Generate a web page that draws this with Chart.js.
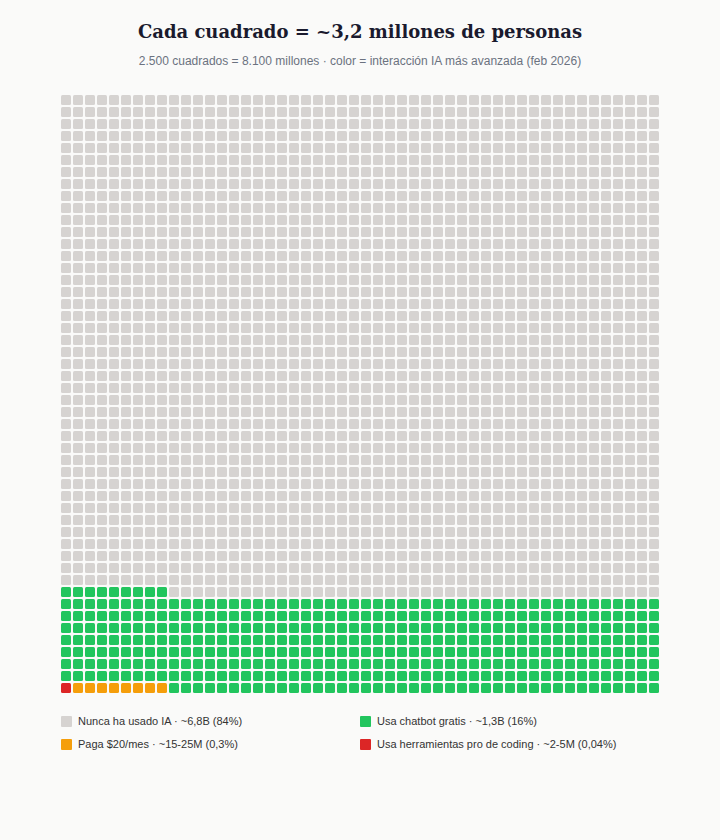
<!DOCTYPE html>
<html lang="es">
<head>
<meta charset="utf-8">
<script src="https://cdn.jsdelivr.net/npm/chart.js@4.4.1/dist/chart.umd.min.js"></script>
<style>
  html, body { margin: 0; padding: 0; background: #fafaf9; }
  body { width: 720px; height: 840px; position: relative; overflow: hidden; font-family: "Liberation Sans", Arial, sans-serif; }
  #title { position: absolute; top: 21px; left: 0; width: 720px; text-align: center; font-family: "DejaVu Serif", Georgia, serif; font-weight: bold; font-size: 18px; color: #1a1a2e; }
  #subtitle { position: absolute; top: 54px; left: 0; width: 720px; text-align: center; font-size: 12px; color: #6b7280; }
  #chart-wrap { position: absolute; left: 60px; top: 94px; width: 600px; height: 600px; }
  #legend { position: absolute; left: 61px; top: 715px; width: 620px; }
  .item { position: absolute; display: flex; align-items: center; font-size: 11px; color: #333; white-space: nowrap; }
  .swatch { width: 11px; height: 11px; margin-right: 6px; border-radius: 1px; }
</style>
</head>
<body>
<div id="title">Cada cuadrado = ~3,2 millones de personas</div>
<div id="subtitle">2.500 cuadrados = 8.100 millones · color = interacción IA más avanzada (feb 2026)</div>
<div id="chart-wrap"><canvas id="waffle"></canvas></div>
<div id="legend"></div>
<script>
// Categories, most advanced first (filled from the bottom-left corner)
const categories = ['Usa herramientas pro de coding', 'Paga $20/mes', 'Usa chatbot gratis', 'Nunca ha usado IA'];
const squareCounts = [1, 8, 400, 2091];
const colors = ['#dc2626', '#f59e0b', '#22c55e', '#d6d3d1'];
const legendTexts = [
    'Usa herramientas pro de coding · ~2-5M (0,04%)',
    'Paga $20/mes · ~15-25M (0,3%)',
    'Usa chatbot gratis · ~1,3B (16%)',
    'Nunca ha usado IA · ~6,8B (84%)'
];
const cols = 50;
const rows = 50;

// one small rounded square per colour, used as point style
function makeSquare(color) {
    const c = document.createElement('canvas');
    c.width = 10; c.height = 10;
    const g = c.getContext('2d');
    g.fillStyle = color;
    g.beginPath();
    g.roundRect(0, 0, 10, 10, 1.5);
    g.fill();
    return c;
}

// build points: row 0 is the bottom row, filled left to right
const datasets = [];
let k = 0;
categories.forEach((name, ci) => {
    const pts = [];
    for (let n = 0; n < squareCounts[ci]; n++, k++) {
        pts.push({ x: k % cols, y: Math.floor(k / cols) });
    }
    datasets.push({
        label: name,
        data: pts,
        pointStyle: makeSquare(colors[ci]),
        backgroundColor: colors[ci]
    });
});

new Chart(document.getElementById('waffle'), {
    type: 'scatter',
    data: { datasets: datasets },
    options: {
        responsive: true,
        maintainAspectRatio: false,
        animation: false,
        layout: { padding: 0, autoPadding: false },
        scales: {
            x: { type: 'linear', min: -0.5, max: cols - 0.5, display: false },
            y: { type: 'linear', min: -0.5, max: rows - 0.5, display: false }
        },
        plugins: {
            legend: { display: false },
            tooltip: { enabled: false }
        }
    }
});

// legend: two columns, order as in the reference
const legendOrder = [3, 2, 1, 0];
const legendPos = [[0, 0], [299, 0], [0, 23], [299, 23]];
const legend = document.getElementById('legend');
legendOrder.forEach((ci, i) => {
    const item = document.createElement('div');
    item.className = 'item';
    item.style.left = legendPos[i][0] + 'px';
    item.style.top = legendPos[i][1] + 'px';
    item.innerHTML = `<span class="swatch" style="background:${colors[ci]}"></span>${legendTexts[ci]}`;
    legend.appendChild(item);
});
</script>
</body>
</html>
